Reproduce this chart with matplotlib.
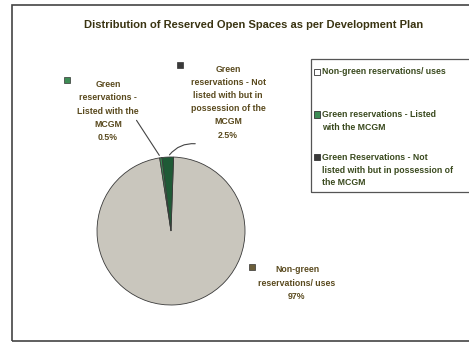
import matplotlib
matplotlib.use("Agg")
import matplotlib.pyplot as plt
from matplotlib.patches import Rectangle
import numpy as np

W, H = 469, 343

categories = ["Non-green reservations/ uses",
              "Green reservations - Listed with the MCGM",
              "Green Reservations - Not listed with but in possession of the MCGM"]
shares = [97.0, 0.5, 2.5]
pct_labels = ["97%", "0.5%", "2.5%"]
label_texts = ["Non-green\nreservations/ uses\n97%",
               "Green\nreservations -\nListed with the\nMCGM\n0.5%",
               "Green\nreservations - Not\nlisted with but in\npossession of the\nMCGM\n2.5%"]
legend_texts = ["Non-green reservations/ uses",
                "Green reservations - Listed\nwith the MCGM",
                "Green Reservations - Not\nlisted with but in possession of\nthe MCGM"]
colors = ["#c9c6bd", "#3d8c55", "#1f5a36"]

plt.rcParams["font.family"] = ["Liberation Sans", "DejaVu Sans"]
txt_col = "#5a4a1e"

fig = plt.figure(figsize=(W / 100, H / 100), dpi=100)
fig.patch.set_facecolor("white")


def fx(x):
    return x / W


def fy(y):
    return 1 - y / H


# outer chart frame and legend frame
fig.patches.append(Rectangle((fx(12), fy(341)), fx(470) - fx(12), fy(5) - fy(341),
                             transform=fig.transFigure, fill=False, edgecolor="#444444", lw=1.2))
fig.patches.append(Rectangle((fx(311), fy(192)), fx(472) - fx(311), fy(59) - fy(192),
                             transform=fig.transFigure, fill=False, edgecolor="#555555", lw=0.9))

fig.text(fx(254), fy(25), "Distribution of Reserved Open Spaces as per Development Plan",
         ha="center", va="center", fontsize=8, fontweight="bold", color="#3a3412")

# pie
cx, cy, r = 171, 231, 74
ax = fig.add_axes([fx(cx - r), fy(cy + r), 2 * r / W, 2 * r / H])
ax.pie(shares, colors=colors, startangle=88, counterclock=False,
       wedgeprops=dict(edgecolor="#3a3a3a", linewidth=0.6))
ax.set_xlim(-1.0, 1.0)
ax.set_ylim(-1.0, 1.0)
ax.set_aspect("auto")
ax.axis("off")

# data labels with markers
lab_pos = [(297, 283), (108, 111), (228, 102)]
mark_pos = [(252, 267), (67, 80), (180, 65)]
mark_cols = ["#6b5e3a", colors[1], "#3a3a3a"]
for txt, (x, y), (mx, my), mc in zip(label_texts, lab_pos, mark_pos, mark_cols):
    fig.text(fx(x), fy(y), txt, ha="center", va="center", fontsize=6.3,
             fontweight="bold", color=txt_col, linespacing=1.6)
    fig.patches.append(Rectangle((fx(mx - 3), fy(my + 3)), 6 / W, 6 / H,
                                 transform=fig.transFigure, facecolor=mc,
                                 edgecolor="#333333", lw=0.5))

# leader lines
ang = np.deg2rad(88 + 2.5 * 3.6 + 0.25 * 3.6)
ax.annotate("", xy=(np.cos(ang), np.sin(ang)), xycoords="data",
            xytext=(fx(135), fy(118)), textcoords="figure fraction",
            arrowprops=dict(arrowstyle="-", color="#444444", lw=0.8))
ang2 = np.deg2rad(88 + 1.25 * 3.6)
ax.annotate("", xy=(np.cos(ang2), np.sin(ang2)), xycoords="data",
            xytext=(fx(198), fy(144)), textcoords="figure fraction",
            arrowprops=dict(arrowstyle="-", color="#444444", lw=0.8,
                            connectionstyle="arc3,rad=0.3"))

# legend
leg_y = [72, 121, 170]
leg_fc = ["white", colors[1], "#3a3a3a"]
for txt, y, fc in zip(legend_texts, leg_y, leg_fc):
    n = txt.count("\n")
    fig.patches.append(Rectangle((fx(314), fy(y - n * 6.5 + 3)), 6 / W, 6 / H,
                                 transform=fig.transFigure, facecolor=fc,
                                 edgecolor="#333333", lw=0.6))
    fig.text(fx(322), fy(y), txt, ha="left", va="center", fontsize=6.3,
             fontweight="bold", color="#3a4a1e", linespacing=1.45)

fig.savefig("out.png", dpi=100)
